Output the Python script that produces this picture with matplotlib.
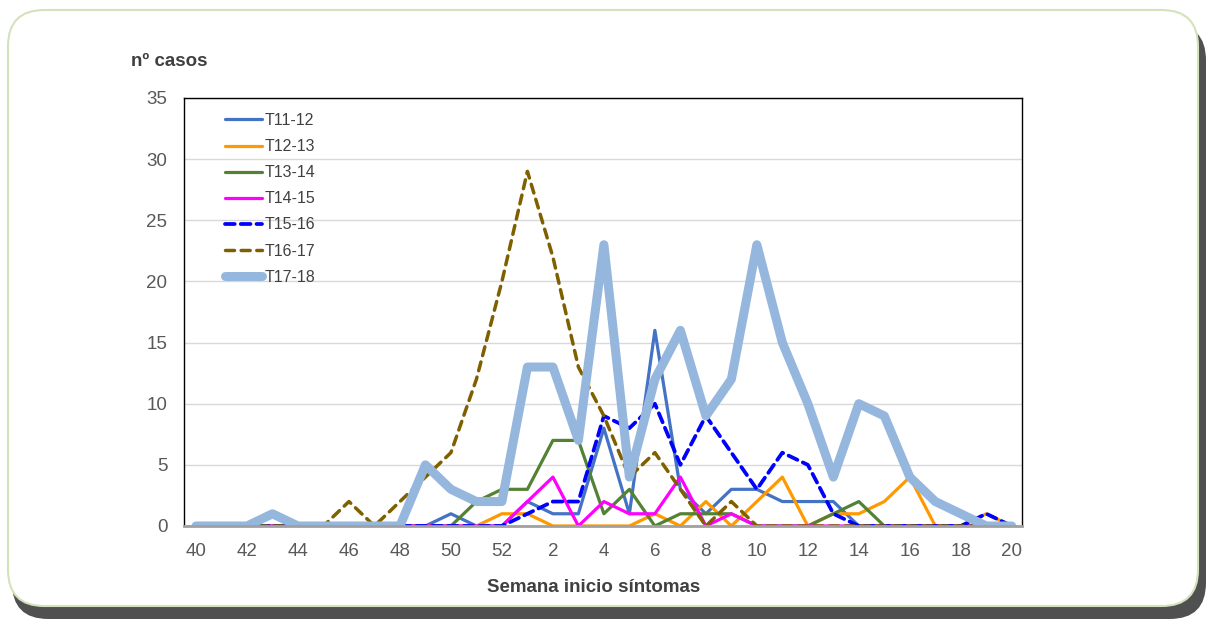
import matplotlib
matplotlib.use("Agg")
import matplotlib.pyplot as plt
from matplotlib.patches import FancyBboxPatch
import numpy as np

plt.rcParams['font.family'] = ['Liberation Sans', 'DejaVu Sans']

# ---- data ----
weeks = [40, 41, 42, 43, 44, 45, 46, 47, 48, 49, 50, 51, 52,
         1, 2, 3, 4, 5, 6, 7, 8, 9, 10, 11, 12, 13, 14, 15, 16, 17, 18, 19, 20]
tick_labels = ["40", "42", "44", "46", "48", "50", "52", "2", "4", "6",
               "8", "10", "12", "14", "16", "18", "20"]

series_names = ["T11-12", "T12-13", "T13-14", "T14-15", "T15-16", "T16-17", "T17-18"]

t11_12 = [0, 0, 0, 0, 0, 0, 0, 0, 0, 0, 1, 0, 0,
          2, 1, 1, 8, 1, 16, 3, 1, 3, 3, 2, 2, 2, 0, 0, 0, 0, 0, 0, 0]
t12_13 = [0, 0, 0, 0, 0, 0, 0, 0, 0, 0, 0, 0, 1,
          1, 0, 0, 0, 0, 1, 0, 2, 0, 2, 4, 0, 1, 1, 2, 4, 0, 0, 1, 0]
t13_14 = [0, 0, 0, 0, 0, 0, 0, 0, 0, 0, 0, 2, 3,
          3, 7, 7, 1, 3, 0, 1, 1, 1, 0, 0, 0, 1, 2, 0, 0, 0, 0, 0, 0]
t14_15 = [0, 0, 0, 0, 0, 0, 0, 0, 0, 0, 0, 0, 0,
          2, 4, 0, 2, 1, 1, 4, 0, 1, 0, 0, 0, 0, 0, 0, 0, 0, 0, 0, 0]
t15_16 = [0, 0, 0, 0, 0, 0, 0, 0, 0, 0, 0, 0, 0,
          1, 2, 2, 9, 8, 10, 5, 9, 6, 3, 6, 5, 1, 0, 0, 0, 0, 0, 1, 0]
t16_17 = [0, 0, 0, 0, 0, 0, 2, 0, 2, 4, 6, 12, 20,
          29, 22, 13, 9, 4, 6, 3, 0, 2, 0, 0, 0, 0, 0, 0, 0, 0, 0, 0, 0]
t17_18 = [0, 0, 0, 1, 0, 0, 0, 0, 0, 5, 3, 2, 2,
          13, 13, 7, 23, 4, 12, 16, 9, 12, 23, 15, 10, 4, 10, 9, 4, 2, 1, 0, 0]

all_series = [t11_12, t12_13, t13_14, t14_15, t15_16, t16_17, t17_18]
colors = ["#4472C4", "#FF9900", "#548235", "#FF00FF", "#0000FF", "#7F6000", "#95B7DE"]
widths = [2.3, 2.3, 2.3, 2.3, 2.7, 2.5, 6.5]
styles = ["solid", "solid", "solid", "solid", (0, (2.6, 1.6)), (0, (2.6, 1.9)), "solid"]

# ---- figure ----
W, H = 1210, 626
fig = plt.figure(figsize=(W / 100, H / 100), dpi=100)

def fx(px):
    return px / W

def fy(py):
    return 1 - py / H

# background frame with shadow
shadow = FancyBboxPatch((fx(12), fy(619)), fx(1194), fy(24) - fy(619),
                        boxstyle="round,pad=0,rounding_size=0.03",
                        transform=fig.transFigure, facecolor="#505050",
                        edgecolor="none", zorder=0, mutation_aspect=W / H)
fig.patches.append(shadow)
frame = FancyBboxPatch((fx(8), fy(606)), fx(1190), fy(10) - fy(606),
                       boxstyle="round,pad=0,rounding_size=0.03",
                       transform=fig.transFigure, facecolor="white",
                       edgecolor="#d4e2bc", linewidth=1.5, zorder=1,
                       mutation_aspect=W / H)
fig.patches.append(frame)

ax = fig.add_axes([fx(184), fy(526), fx(1022) - fx(184), fy(98) - fy(526)])
ax.set_zorder(2)
ax.patch.set_alpha(0)

x = np.arange(len(weeks))
handles = []
for name, vals, c, lw, ls in zip(series_names, all_series, colors, widths, styles):
    (ln,) = ax.plot(x, vals, color=c, linewidth=lw, linestyle=ls, label=name,
                    solid_joinstyle="round", solid_capstyle="round",
                    dash_capstyle="round", dash_joinstyle="round")
    handles.append(ln)

ax.set_ylim(0, 35)
ax.set_xlim(-0.47, len(weeks) - 1 + 0.4)
ax.set_yticks(range(0, 36, 5))
ax.set_xticks(x[::2])
ax.set_xticklabels(tick_labels)
ax.tick_params(axis="both", length=0, labelsize=13.5, colors="#595959")
ax.tick_params(axis="y", pad=12)
ax.tick_params(axis="x", pad=12.5)
ax.grid(axis="y", color="#d9d9d9", linewidth=1)
ax.set_axisbelow(True)
for s in ["left", "top", "right"]:
    ax.spines[s].set_color("black")
    ax.spines[s].set_linewidth(1.0)
ax.spines["bottom"].set_color("#a0a0a0")
ax.spines["bottom"].set_linewidth(2.0)

leg = ax.legend(handles=handles, loc="upper left",
                bbox_to_anchor=(fx(225), fy(113)), bbox_transform=fig.transFigure,
                frameon=False, fontsize=11.5, handlelength=2.3, handletextpad=0.2,
                labelspacing=0.695, borderpad=0, borderaxespad=0)
for t in leg.get_texts():
    t.set_color("#404040")

fig.text(fx(594), fy(588), "Semana inicio síntomas", ha="center", va="center",
         fontsize=13.5, fontweight="bold", color="#404040")
fig.text(fx(131), fy(61), "nº casos", ha="left", va="center",
         fontsize=13.5, fontweight="bold", color="#404040")

fig.savefig("out.png", dpi=100)
